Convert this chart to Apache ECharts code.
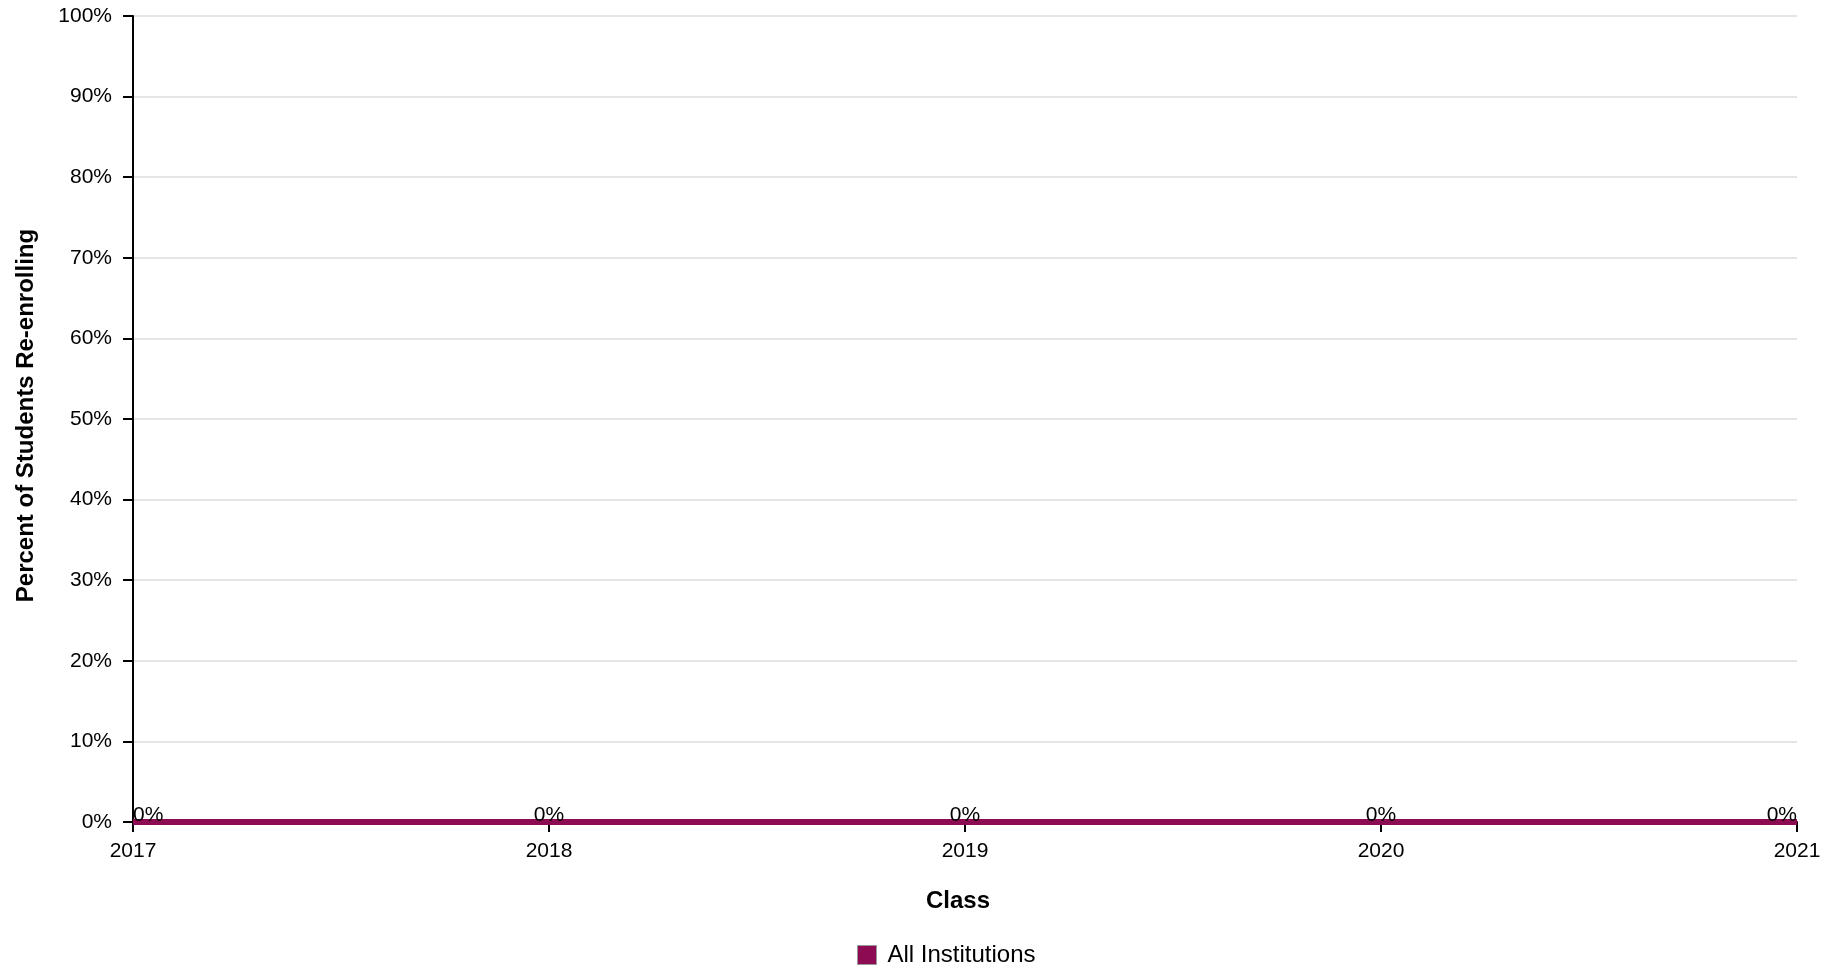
<!DOCTYPE html>
<html>
<head>
<meta charset="utf-8">
<script src="https://cdn.jsdelivr.net/npm/echarts@6/dist/echarts.min.js"></script>
<style>
html,body{margin:0;padding:0;background:#fff;}
#chart{width:1841px;height:969px;}
</style>
</head>
<body>
<div id="chart"></div>
<script>
const categories = ['2017', '2018', '2019', '2020', '2021'];
const allInstitutions = [0, 0, 0, 0, 0];
const yTicks = { min: 0, max: 100, interval: 10 };

const FONT = '"Liberation Sans", Arial, Helvetica, sans-serif';
const MAROON = '#8c0b52';

const chart = echarts.init(document.getElementById('chart'));
const lastIdx = categories.length - 1;
const seriesData = allInstitutions.map((v, i) => ({
  value: v,
  label: { align: i === 0 ? 'left' : (i === lastIdx ? 'right' : 'center') }
}));

chart.setOption({
  animation: false,
  backgroundColor: '#fff',
  grid: { left: 133, right: 44, top: 16, bottom: 147, containLabel: false },
  legend: {
    top: 938,
    left: 852,
    icon: 'rect',
    itemWidth: 19,
    itemHeight: 19,
    itemGap: 20,
    textStyle: { fontFamily: FONT, fontSize: 24, color: '#000', padding: [0, 0, 0, 6] },
    data: [{ name: 'All Institutions', itemStyle: { color: MAROON, borderColor: '#999', borderWidth: 1 } }]
  },
  xAxis: {
    type: 'category',
    data: categories,
    boundaryGap: false,
    z: 3,
    name: 'Class',
    nameLocation: 'middle',
    nameGap: 67,
    nameTextStyle: { fontFamily: FONT, fontSize: 24, fontWeight: 'bold', color: '#000', padding: [0, 14, 0, 0] },
    axisLine: { lineStyle: { color: '#000', width: 2 } },
    axisTick: { length: 10, lineStyle: { color: '#000', width: 2 }, alignWithLabel: true },
    axisLabel: { fontFamily: FONT, fontSize: 21, color: '#000', margin: 19 },
    splitLine: { show: false }
  },
  yAxis: {
    type: 'value',
    min: yTicks.min,
    max: yTicks.max,
    interval: yTicks.interval,
    z: 3,
    name: 'Percent of Students Re-enrolling',
    nameLocation: 'middle',
    nameGap: 95,
    nameTextStyle: { fontFamily: FONT, fontSize: 24, fontWeight: 'bold', color: '#000', padding: [0, 0, 0, 7] },
    axisLine: { show: true, lineStyle: { color: '#000', width: 2 } },
    axisTick: { show: true, length: 10, lineStyle: { color: '#000', width: 2 } },
    axisLabel: { fontFamily: FONT, fontSize: 21, color: '#000', margin: 21, formatter: '{value}%' },
    splitLine: { show: true, lineStyle: { color: '#dddddd', width: 1.5 } }
  },
  series: [{
    name: 'All Institutions',
    type: 'line',
    data: seriesData,
    showSymbol: true,
    symbol: 'circle',
    symbolSize: 0.01,
    itemStyle: { color: 'transparent', borderWidth: 0 },
    lineStyle: { color: MAROON, width: 6 },
    areaStyle: { color: MAROON, opacity: 1 },
    label: {
      show: true,
      position: 'top',
      distance: -4,
      formatter: '{c}%',
      fontFamily: FONT,
      fontSize: 21,
      color: '#000'
    }
  }]
});
</script>
</body>
</html>
